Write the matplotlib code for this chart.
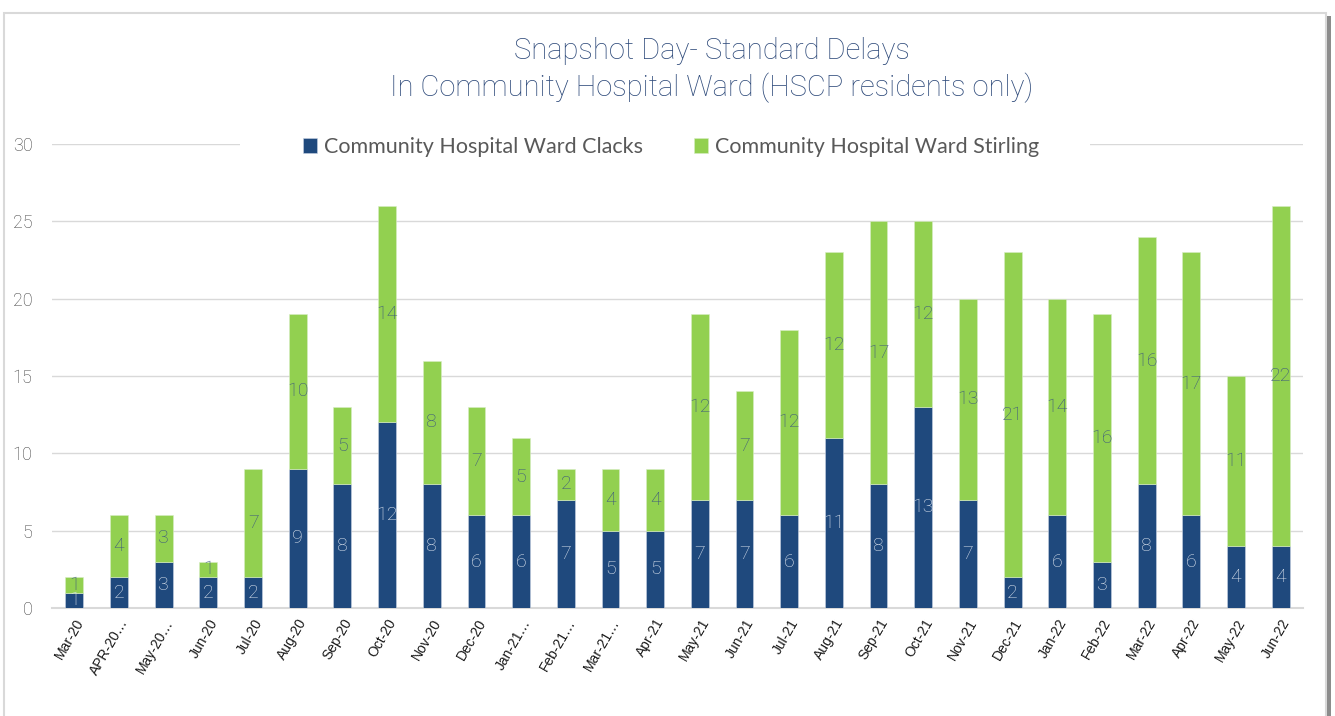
import numpy as np
import matplotlib
matplotlib.use("Agg")
import matplotlib.pyplot as plt
from matplotlib.patches import Rectangle

# data
months = ["Mar-20", "APR-20…", "May-20…", "Jun-20", "Jul-20", "Aug-20", "Sep-20", "Oct-20",
          "Nov-20", "Dec-20", "Jan-21…", "Feb-21…", "Mar-21…", "Apr-21", "May-21", "Jun-21",
          "Jul-21", "Aug-21", "Sep-21", "Oct-21", "Nov-21", "Dec-21", "Jan-22", "Feb-22",
          "Mar-22", "Apr-22", "May-22", "Jun-22"]
clacks = [1, 2, 3, 2, 2, 9, 8, 12, 8, 6, 6, 7, 5, 5, 7, 7, 6, 11, 8, 13, 7, 2, 6, 3, 8, 6, 4, 4]
stirling = [1, 4, 3, 1, 7, 10, 5, 14, 8, 7, 5, 2, 4, 4, 12, 7, 12, 12, 17, 12, 13, 21, 14, 16, 16, 17, 11, 22]

blue = "#1F497D"
green = "#92D050"
title_col = "#2E4A7A"

fig = plt.figure(figsize=(13.35, 7.16), dpi=100)
ax = fig.add_axes([52/1335, 1-608/716, (1303-52)/1335, (608-144)/716])

x = np.arange(len(months))
w = 0.40
ax.bar(x, clacks, w, color=blue, edgecolor="#c9d3e3", linewidth=0.4, label="Community Hospital Ward Clacks", zorder=3)
ax.bar(x, stirling, w, bottom=clacks, color=green, edgecolor="#d8edc4", linewidth=0.4,
       label="Community Hospital Ward Stirling", zorder=3)

# value labels in the middle of each segment
for i in range(len(months)):
    ax.text(x[i], clacks[i]/2, str(clacks[i]), ha="center", va="center", color="#dfe6f0",
            fontsize=14, family="Roboto", fontweight="light", zorder=4)
    ax.text(x[i], clacks[i] + stirling[i]/2, str(stirling[i]), ha="center", va="center",
            color="#3A5480", fontsize=14, family="Roboto", fontweight="light", zorder=4)

ax.set_xlim(-0.5, len(months) - 0.5)
ax.set_ylim(0, 30)
ax.set_yticks(range(0, 31, 5))
ax.yaxis.grid(True, color="#d9d9d9", linewidth=1, zorder=0)
ax.tick_params(axis="y", length=0, pad=14, labelsize=13, labelcolor="#404040")
for lb in ax.get_yticklabels():
    lb.set_family("Roboto")
    lb.set_fontweight("light")
ax.set_xticks(x)
ax.set_xticklabels(months, rotation=60, ha="right", va="top", rotation_mode="anchor",
                   fontsize=10, family="Liberation Sans", color="#1a1a1a")
ax.tick_params(axis="x", length=0, pad=6)
for s in ["top", "right", "left"]:
    ax.spines[s].set_visible(False)
ax.spines["bottom"].set_color("#d9d9d9")
ax.spines["bottom"].set_linewidth(1.5)

fig.text(712/1335, 1-51/716, "Snapshot Day- Standard Delays", ha="center", va="center",
         fontsize=21, family="Roboto", fontweight="light", color=title_col)
fig.text(712/1335, 1-88/716, "In Community Hospital Ward (HSCP residents only)", ha="center", va="center",
         fontsize=21, family="Roboto", fontweight="light", color=title_col)

leg = fig.legend(loc="center", bbox_to_anchor=(671/1335, 1-147/716), ncol=2, frameon=True,
                 fancybox=False, edgecolor="white", facecolor="white", framealpha=1,
                 handlelength=0.65, handleheight=0.65, handletextpad=0.3, columnspacing=2.4,
                 borderpad=0.3, borderaxespad=0, prop={"family": "Lato", "size": 15.5})
for t in leg.get_texts():
    t.set_color("#595959")
# widen the white band behind the legend over the top gridline
fig.patches.append(Rectangle((240/1335, 1-160/716), 850/1335, 26/716, transform=fig.transFigure,
                             facecolor="white", edgecolor="none", zorder=2))

# chart frame
fig.patches.append(Rectangle((4/1335, -0.05), 1322/1335, 1.05 - 13/716, transform=fig.transFigure,
                             fill=False, edgecolor="#d9d9d9", linewidth=1.5))
fig.patches.append(Rectangle((1327/1335, -0.05), 4/1335, 1.05 - 16/716, transform=fig.transFigure,
                             facecolor="#8c8c8c", edgecolor="none"))

fig.savefig("out.png", dpi=100)
